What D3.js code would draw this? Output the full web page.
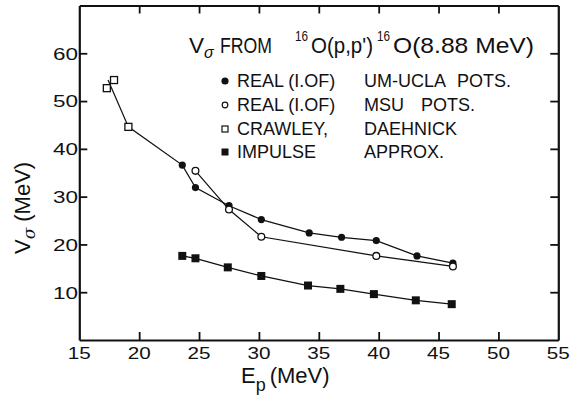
<!DOCTYPE html>
<html>
<head>
<meta charset="utf-8">
<script src="https://cdn.jsdelivr.net/npm/d3@7"></script>
<style>
  html, body { margin: 0; padding: 0; background: #fff; }
  svg { display: block; }
  text { font-family: "Liberation Sans", Arial, sans-serif; fill: #111; }
</style>
</head>
<body>
<svg id="chart" width="571" height="398"></svg>
<script>
// ---- data ----
const xTicks = [15, 20, 25, 30, 35, 40, 45, 50, 55];
const yTicks = [10, 20, 30, 40, 50, 60];

const umUclaE = [23.6, 24.7, 27.5, 30.2, 34.2, 36.9, 39.8, 43.2, 46.2];
const umUclaV = [36.6, 31.9, 28.1, 25.2, 22.4, 21.5, 20.8, 17.6, 16.1];

const msuE = [24.7, 27.5, 30.2, 39.8, 46.2];
const msuV = [35.4, 27.3, 21.6, 17.6, 15.4];

const crawleyE = [17.3, 17.9, 19.1];
const crawleyV = [52.7, 54.4, 44.6];

// drawn trend line that leads from the Crawley points into the UM-UCLA set
const trendLeadE = [17.4, 19.1];
const trendLeadV = [54.4, 44.6];

const impulseE = [23.6, 24.7, 27.4, 30.2, 34.1, 36.8, 39.6, 43.1, 46.1];
const impulseV = [17.6, 17.1, 15.2, 13.4, 11.4, 10.7, 9.6, 8.3, 7.5];

const legendCol1 = ["REAL (I.OF)", "REAL (I.OF)", "CRAWLEY,", "IMPULSE"];
const legendCol2 = ["UM-UCLA", "MSU", "DAEHNICK", "APPROX."];
const legendCol3 = ["POTS.", "POTS.", "", ""];

// ---- layout ----
const svg = d3.select("#chart");
const x = d3.scaleLinear().domain([15, 55]).range([79.3, 558.3]);
const y = d3.scaleLinear().domain([0, 70]).range([340, 5.5]);
const ink = "#111";

const pts = (E, V) => E.map((e, i) => [e, V[i]]);
const line = d3.line().x(d => x(d[0])).y(d => y(d[1]));

// axes (ticks pointing inward)
const tickLen = 8;
const gB = svg.append("g").attr("transform", `translate(0,${y(0)})`)
  .call(d3.axisBottom(x).tickValues(xTicks.slice(1, -1)).tickSizeInner(-tickLen).tickSizeOuter(0).tickFormat(""));
const gT = svg.append("g").attr("transform", `translate(0,${y(70)})`)
  .call(d3.axisTop(x).tickValues(xTicks.slice(1, -1)).tickSizeInner(-tickLen).tickSizeOuter(0).tickFormat(""));
const gL = svg.append("g").attr("transform", `translate(${x(15)},0)`)
  .call(d3.axisLeft(y).tickValues(yTicks).tickSizeInner(-tickLen).tickSizeOuter(0).tickFormat(""));
const gR = svg.append("g").attr("transform", `translate(${x(55)},0)`)
  .call(d3.axisRight(y).tickValues(yTicks).tickSizeInner(-tickLen).tickSizeOuter(0).tickFormat(""));
[gB, gT, gL, gR].forEach(g => {
  g.select(".domain").attr("stroke", ink).attr("stroke-width", 2.2);
  g.selectAll(".tick line").attr("stroke", ink).attr("stroke-width", 1.8);
});

// tick labels (round, wide lettering)
svg.append("g").selectAll("text").data(xTicks).join("text")
  .attr("x", d => x(d)).attr("y", 359)
  .attr("text-anchor", "middle").attr("font-size", 17)
  .attr("textLength", 23).attr("lengthAdjust", "spacingAndGlyphs")
  .text(d => d);
svg.append("g").selectAll("text").data(yTicks).join("text")
  .attr("x", 78).attr("y", d => y(d) + 6.3)
  .attr("text-anchor", "end").attr("font-size", 17)
  .attr("textLength", 25).attr("lengthAdjust", "spacingAndGlyphs")
  .text(d => d);

// axis titles
const xl = svg.append("text").attr("x", 241).attr("y", 383).attr("font-size", 22);
xl.append("tspan").text("E");
xl.append("tspan").attr("font-size", 18).attr("dy", 8).text("p");
xl.append("tspan").attr("dy", -8).attr("dx", 4).text("(MeV)");

const yl = svg.append("text").attr("transform", "translate(30,254) rotate(-90)").attr("font-size", 22);
yl.append("tspan").text("V");
yl.append("tspan").attr("font-family", "DejaVu Serif").attr("font-style", "italic").attr("font-size", 17).attr("dy", 5).text("σ");
yl.append("tspan").attr("dy", -5).attr("dx", 6).text("(MeV)");

// data lines
const lw = 1.25;
svg.append("path").datum(pts(trendLeadE, trendLeadV).concat(pts(umUclaE, umUclaV)))
  .attr("d", line).attr("fill", "none").attr("stroke", ink).attr("stroke-width", lw);
svg.append("path").datum(pts(msuE, msuV))
  .attr("d", line).attr("fill", "none").attr("stroke", ink).attr("stroke-width", lw);
svg.append("path").datum(pts(impulseE, impulseV))
  .attr("d", line).attr("fill", "none").attr("stroke", ink).attr("stroke-width", lw);

// markers
svg.append("g").selectAll("circle").data(pts(umUclaE, umUclaV)).join("circle")
  .attr("cx", d => x(d[0])).attr("cy", d => y(d[1])).attr("r", 3.6).attr("fill", ink);
svg.append("g").selectAll("circle").data(pts(msuE, msuV)).join("circle")
  .attr("cx", d => x(d[0])).attr("cy", d => y(d[1])).attr("r", 3.4)
  .attr("fill", "#fff").attr("stroke", ink).attr("stroke-width", 1.3);
svg.append("g").selectAll("rect").data(pts(crawleyE, crawleyV)).join("rect")
  .attr("x", d => x(d[0]) - 3.5).attr("y", d => y(d[1]) - 3.5).attr("width", 7).attr("height", 7)
  .attr("fill", "#fff").attr("stroke", ink).attr("stroke-width", 1.3);
svg.append("g").selectAll("rect").data(pts(impulseE, impulseV)).join("rect")
  .attr("x", d => x(d[0]) - 4).attr("y", d => y(d[1]) - 4).attr("width", 8).attr("height", 8)
  .attr("fill", ink);

// title
const title = svg.append("g");
const tpart = (txt, tx, ty, fs, len) => {
  const el = title.append("text").attr("x", tx).attr("y", ty).attr("font-size", fs).text(txt);
  if (len) el.attr("textLength", len).attr("lengthAdjust", "spacingAndGlyphs");
  return el;
};
tpart("V", 189, 53, 22, 15);
tpart("σ", 204, 58, 16).attr("font-family", "DejaVu Serif").attr("font-style", "italic");
tpart("FROM", 220, 53, 22, 52);
tpart("16", 295, 41, 15, 13);
tpart("O(p,p')", 311, 53, 22, 62);
tpart("16", 377, 41, 15, 13);
tpart("O(8.88 MeV)", 393, 53, 22, 141);

// legend
const legendY = [87, 111, 135, 158];
const lg = svg.append("g");
legendY.forEach((ly, i) => {
  const cx = 225, cy = ly - 6;
  if (i === 0) lg.append("circle").attr("cx", cx).attr("cy", cy).attr("r", 3.6).attr("fill", ink);
  if (i === 1) lg.append("circle").attr("cx", cx).attr("cy", cy).attr("r", 2.8).attr("fill", "#fff").attr("stroke", ink).attr("stroke-width", 1.2);
  if (i === 2) lg.append("rect").attr("x", cx - 3).attr("y", cy - 3).attr("width", 6).attr("height", 6).attr("fill", "#fff").attr("stroke", ink).attr("stroke-width", 1.2);
  if (i === 3) lg.append("rect").attr("x", cx - 3.5).attr("y", cy - 3.5).attr("width", 7).attr("height", 7).attr("fill", ink);
  lg.append("text").attr("x", 237).attr("y", ly).attr("font-size", 18).text(legendCol1[i]);
  lg.append("text").attr("x", 364).attr("y", ly).attr("font-size", 18).text(legendCol2[i]);
  if (legendCol3[i]) {
    lg.append("text").attr("x", i === 0 ? 457 : 421).attr("y", ly).attr("font-size", 18).text(legendCol3[i]);
  }
});
</script>
</body>
</html>
